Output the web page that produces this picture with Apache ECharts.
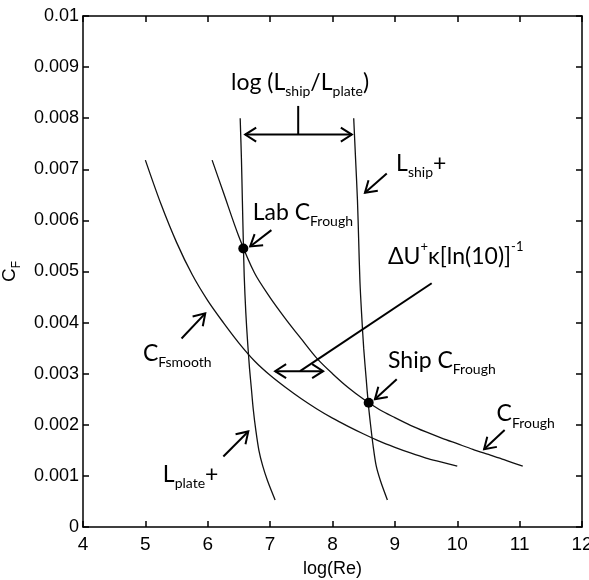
<!DOCTYPE html>
<html><head><meta charset="utf-8">
<script src="https://cdn.jsdelivr.net/npm/echarts@6/dist/echarts.min.js"></script>
<style>html,body{margin:0;padding:0;background:#fff}#c{width:589px;height:580px}</style>
</head><body><div id="c"></div>
<script>
// ---- data ----
const xTickLabels = ['4','5','6','7','8','9','10','11','12'];
const yTickLabels = ['0','0.001','0.002','0.003','0.004','0.005','0.006','0.007','0.008','0.009','0.01'];

const smoothLogRe = [5.0,5.25,5.5,5.75,6.0,6.25,6.5,6.75,7.0,7.25,7.5,7.75,8.0,8.25,8.5,8.75,9.0,9.25,9.5,9.75,10.0];
const smoothCF    = [0.00718,0.00632,0.00557,0.00494,0.00443,0.00400,0.00360,0.00325,0.00297,0.00273,0.00251,0.00231,0.00213,0.00197,0.00182,0.00168,0.00156,0.00145,0.00135,0.00127,0.00119];

const roughLogRe = [6.07,6.25,6.5,6.75,7.0,7.25,7.5,7.75,8.0,8.25,8.5,8.75,9.0,9.25,9.5,9.75,10.0,10.25,10.5,10.75,11.05];
const roughCF    = [0.00718,0.00655,0.00568,0.00497,0.00449,0.00407,0.00368,0.00330,0.00300,0.00273,0.00250,0.00230,0.00214,0.00199,0.00186,0.00174,0.00163,0.00152,0.00142,0.00132,0.00119];

const plateCF    = [0.0080,0.0072,0.0064,0.0056,0.0049,0.0042,0.0036,0.0031,0.0027,0.0023,0.0019,0.0015,0.0012,0.0009,0.00053];
const plateLogRe = [6.52,6.54,6.555,6.57,6.585,6.61,6.64,6.67,6.70,6.73,6.77,6.82,6.88,6.96,7.08];

const shipCF    = [0.0080,0.0072,0.0064,0.0056,0.0048,0.0041,0.0035,0.0029,0.0024,0.0020,0.0016,0.0012,0.0009,0.00053];
const shipLogRe = [8.34,8.37,8.40,8.42,8.44,8.47,8.50,8.54,8.575,8.61,8.65,8.70,8.77,8.88];

const labPoint  = [6.57, 0.00545];
const shipPoint = [8.58, 0.00243];

// annotation arrows: [x1, y1, x2, y2, heads] (tail -> tip; heads 0 none, 1 tip, 2 both)
const annotArrows = [
  [6.60, 0.00768, 8.31, 0.00768, 2],
  [7.45, 0.00768, 7.45, 0.00824, 0],
  [8.87, 0.00692, 8.52, 0.00654, 1],
  [7.02, 0.00581, 6.68, 0.00549, 1],
  [7.08, 0.00305, 7.85, 0.00305, 2],
  [7.48, 0.00305, 9.59, 0.00477, 0],
  [5.58, 0.00369, 5.96, 0.00418, 1],
  [6.25, 0.00138, 6.65, 0.00187, 1],
  [9.03, 0.00289, 8.68, 0.00250, 1],
  [10.76, 0.00190, 10.43, 0.00152, 1]
];
// annotation texts: [x, y (main text centre), rich text, align]
const annotTexts = [
  [7.48, 0.00869, '{m|log (L}{s|ship}{m|/L}{s|plate}{m|)}', 'center'],
  [9.02, 0.00712, '{m|L}{s|ship}{m|+}', 'left'],
  [6.72, 0.00616, '{m|Lab C}{s|Frough}', 'left'],
  [8.89, 0.00530, '{m|ΔU}{u|+}{m|κ[ln(10)]}{u|-1}', 'left'],
  [4.96, 0.00340, '{m|C}{s|Fsmooth}', 'left'],
  [5.28, 0.00102, '{m|L}{s|plate}{m|+}', 'left'],
  [8.89, 0.00325, '{m|Ship C}{s|Frough}', 'left'],
  [10.63, 0.00221, '{m|C}{s|Frough}', 'left']
];

// ---- chart ----
const tickFont = "'Liberation Sans Narrow', 'Liberation Sans', sans-serif";
const textFont = "Lato, 'Open Sans', sans-serif";
const chart = echarts.init(document.getElementById('c'), null, {renderer: 'canvas'});

const axisCommon = {
  type: 'value',
  axisLine: {onZero: false, lineStyle: {color: '#000', width: 1.5}},
  axisTick: {inside: true, length: 6, lineStyle: {color: '#000', width: 1.5}},
  splitLine: {show: false}
};
const zip = (xs, ys) => xs.map((x, i) => [x, ys[i]]);
const curveStyle = {color: '#111', width: 1.3};

chart.setOption({
  animation: false,
  backgroundColor: '#fff',
  grid: {left: 83, right: 7, top: 16, bottom: 53, containLabel: false, outerBoundsMode: 'none'},
  xAxis: [
    Object.assign({}, axisCommon, {
      min: 4, max: 12, interval: 1, position: 'bottom',
      axisLabel: {color: '#000', fontSize: 19, fontFamily: tickFont, margin: 8,
        formatter: v => xTickLabels[Math.round(v - 4)]},
      name: 'log(Re)', nameLocation: 'middle', nameGap: 33,
      nameTextStyle: {color: '#000', fontSize: 18, fontFamily: tickFont}
    }),
    Object.assign({}, axisCommon, {
      min: 4, max: 12, interval: 1, position: 'top', axisLabel: {show: false}
    })
  ],
  yAxis: [
    Object.assign({}, axisCommon, {
      min: 0, max: 0.01, interval: 0.001, position: 'left',
      axisLabel: {color: '#000', fontSize: 18, fontFamily: tickFont, margin: 4,
        formatter: v => yTickLabels[Math.round(v / 0.001)]},
      name: '{c|C}{f|F}', nameLocation: 'middle', nameGap: 52,
      nameTextStyle: {color: '#000', fontFamily: tickFont,
        rich: {c: {fontSize: 19, lineHeight: 26, verticalAlign: 'middle', fontFamily: tickFont, color: '#000'},
               f: {fontSize: 12, verticalAlign: 'bottom', fontFamily: tickFont, color: '#000'}}}
    }),
    Object.assign({}, axisCommon, {
      min: 0, max: 0.01, interval: 0.001, position: 'right', axisLabel: {show: false}
    })
  ],
  series: [
    {type: 'line', name: 'CFsmooth', data: zip(smoothLogRe, smoothCF), smooth: 0.3, showSymbol: false, lineStyle: curveStyle},
    {type: 'line', name: 'CFrough', data: zip(roughLogRe, roughCF), smooth: 0.3, showSymbol: false, lineStyle: curveStyle},
    {type: 'line', name: 'Lplate+', data: zip(plateLogRe, plateCF), smooth: 0.3, showSymbol: false, lineStyle: curveStyle},
    {type: 'line', name: 'Lship+', data: zip(shipLogRe, shipCF), smooth: 0.3, showSymbol: false, lineStyle: curveStyle},
    {type: 'scatter', name: 'points', data: [labPoint, shipPoint], symbolSize: 10, itemStyle: {color: '#000', opacity: 1}, z: 5}
  ]
});

// ---- annotations (arrows & labels) ----
const toPx = p => chart.convertToPixel({xAxisIndex: 0, yAxisIndex: 0}, p);
const graphics = [];
function head(tip, from) {
  const dx = tip[0] - from[0], dy = tip[1] - from[1];
  const len = Math.hypot(dx, dy), ux = dx / len, uy = dy / len;
  const L = 11, W = 7;
  return [[tip[0] - L * ux + W * uy, tip[1] - L * uy - W * ux], tip, [tip[0] - L * ux - W * uy, tip[1] - L * uy + W * ux]];
}
const arrowStyle = {stroke: '#000', lineWidth: 2, fill: null};
annotArrows.forEach(a => {
  const p1 = toPx([a[0], a[1]]), p2 = toPx([a[2], a[3]]);
  graphics.push({type: 'polyline', shape: {points: [p1, p2]}, style: arrowStyle, z: 10});
  if (a[4] >= 1) graphics.push({type: 'polyline', shape: {points: head(p2, p1)}, style: arrowStyle, z: 10});
  if (a[4] >= 2) graphics.push({type: 'polyline', shape: {points: head(p1, p2)}, style: arrowStyle, z: 10});
});
const rich = {
  m: {fontSize: 23, lineHeight: 32, verticalAlign: 'middle', fontFamily: textFont, fill: '#000', color: '#000'},
  s: {fontSize: 14, verticalAlign: 'bottom', fontFamily: textFont, fill: '#000', color: '#000'},
  u: {fontSize: 13, verticalAlign: 'top', fontFamily: textFont, fill: '#000', color: '#000'}
};
annotTexts.forEach(t => {
  const p = toPx([t[0], t[1]]);
  graphics.push({type: 'text', x: p[0], y: p[1] - 16, z: 11,
    style: {text: t[2], rich: rich, fill: '#000', font: '23px ' + textFont,
      align: t[3], textAlign: t[3], verticalAlign: 'top', textVerticalAlign: 'top'}});
});
chart.setOption({graphic: graphics});
</script>
</body></html>
